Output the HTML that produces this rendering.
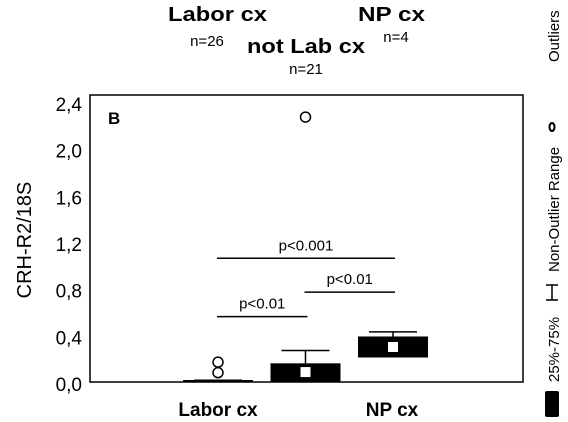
<!DOCTYPE html>
<html><head><meta charset="utf-8"><style>
html,body{margin:0;padding:0;background:#fff;}
svg{display:block;font-family:"Liberation Sans",Arial,sans-serif;}
</style></head><body>
<svg id="chart" width="568" height="422" viewBox="0 0 568 422">
<g>
<text x="168" y="21" font-size="20" font-weight="bold" textLength="99" lengthAdjust="spacingAndGlyphs">Labor cx</text>
<text x="358" y="21" font-size="20" font-weight="bold" textLength="67" lengthAdjust="spacingAndGlyphs">NP cx</text>
<text x="247" y="53" font-size="20" font-weight="bold" textLength="118" lengthAdjust="spacingAndGlyphs">not Lab cx</text>
<text x="207" y="46" font-size="15" text-anchor="middle">n=26</text>
<text x="306" y="74" font-size="15" text-anchor="middle">n=21</text>
<text x="396" y="42" font-size="15" text-anchor="middle">n=4</text>
</g>
<text transform="translate(31,240) rotate(-90)" font-size="20" text-anchor="middle">CRH-R2/18S</text>
<rect x="90" y="95" width="433" height="287" fill="none" stroke="#000" stroke-width="1.5"/>
<text x="108" y="124" font-size="17" font-weight="bold">B</text>
<g id="yticks"></g>
<g id="marks"></g>
<text x="218" y="416" font-size="19" font-weight="bold" text-anchor="middle">Labor cx</text>
<text x="392" y="416" font-size="19" font-weight="bold" text-anchor="middle">NP cx</text>
<g>
<rect x="545" y="391" width="14" height="26" fill="#000" rx="2"/>
<text transform="translate(559,382) rotate(-90)" font-size="15">25%-75%</text>
<path d="M546 300 H558 M546 285 H558 M552 285 V300" stroke="#000" stroke-width="1.5" fill="none"/>
<text transform="translate(559,272) rotate(-90)" font-size="15">Non-Outlier Range</text>
<ellipse cx="552" cy="127" rx="2.5" ry="4" fill="none" stroke="#000" stroke-width="2"/>
<text transform="translate(559,62) rotate(-90)" font-size="15">Outliers</text>
</g>
</svg>
<script>
const categories = ["Labor cx", "not Lab cx", "NP cx"];
const q1 = [0.0, 0.0, 0.21];
const q3 = [0.012, 0.16, 0.39];
const medians = [0.005, 0.085, 0.30];
const whiskerMax = [0.015, 0.27, 0.43];
const outliers = [[0.08, 0.17], [2.27], []];
const tickValues = [0, 0.4, 0.8, 1.2, 1.6, 2.0, 2.4];
const tickLabels = ["0,0", "0,4", "0,8", "1,2", "1,6", "2,0", "2,4"];
const sigLabels = ["p<0.01", "p<0.01", "p<0.001"];
const sigPairs = [[0, 1], [1, 2], [0, 2]];
const sigValues = [0.56, 0.77, 1.06];

const NS = "http://www.w3.org/2000/svg";
function y(v) { return 382 - v * 116.7; }
function xc(i) { return 218 + i * 87.5; }
function mk(tag, attrs, parent) {
  const e = document.createElementNS(NS, tag);
  for (const k in attrs) e.setAttribute(k, attrs[k]);
  parent.appendChild(e);
  return e;
}
const yt = document.getElementById("yticks");
tickValues.forEach((v, i) => {
  const t = mk("text", {x: 82, y: y(v) + 9, "font-size": 19, "text-anchor": "end"}, yt);
  t.textContent = tickLabels[i];
  
  
});
const g = document.getElementById("marks");
const bw = 70;
categories.forEach((c, i) => {
  const cx = xc(i);
  const wl = mk("path", {d: `M${cx} ${y(q3[i])} V${y(whiskerMax[i])} M${cx-24} ${y(whiskerMax[i])} H${cx+24}`, stroke: "#000", "stroke-width": 1.5, fill: "none"}, g);
  
  
  const h = Math.max(y(q1[i]) - y(q3[i]), 2);
  const r = mk("rect", {x: cx - bw/2, y: y(q1[i]) - h, width: bw, height: h, fill: "#000"}, g);
  
  
  if (h > 8) {
    const m = mk("rect", {x: cx - 5, y: y(medians[i]) - 5, width: 10, height: 10, fill: "#fff"}, g);
    
    
  }
  outliers[i].forEach(v => {
    const o = mk("circle", {cx: cx, cy: y(v), r: 5, fill: "#fff", stroke: "#000", "stroke-width": 1.5}, g);
    
    
  });
});
sigPairs.forEach((p, i) => {
  const yy = y(sigValues[i]);
  const x1 = xc(p[0]) - 1, x2 = xc(p[1]) + 2;
  const l = mk("line", {x1: x1, x2: x2, y1: yy, y2: yy, stroke: "#000", "stroke-width": 1.5}, g);
  
  
  const t = mk("text", {x: (x1 + x2) / 2, y: yy - 8, "font-size": 15, "text-anchor": "middle"}, g);
  t.textContent = sigLabels[i];
  
  
});
</script>
</body></html>
